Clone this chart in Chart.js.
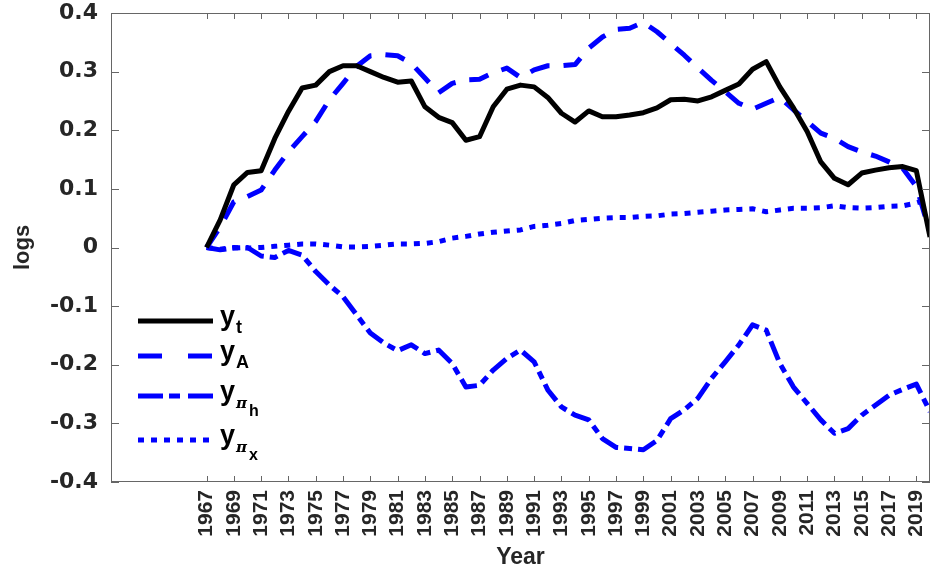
<!DOCTYPE html>
<html>
<head>
<meta charset="utf-8">
<script src="https://cdn.jsdelivr.net/npm/chart.js@4.4.1/dist/chart.umd.min.js"></script>
<style>
  body { margin: 0; background: #fff; }
  #wrap { width: 934px; height: 576px; }
</style>
</head>
<body>
<div id="wrap"><canvas id="myChart" width="934" height="576"></canvas></div>
<script>
// years of the series
const years = [1967, 1968, 1969, 1970, 1971, 1972, 1973, 1974, 1975, 1976,
  1977, 1978, 1979, 1980, 1981, 1982, 1983, 1984, 1985, 1986,
  1987, 1988, 1989, 1990, 1991, 1992, 1993, 1994, 1995, 1996,
  1997, 1998, 1999, 2000, 2001, 2002, 2003, 2004, 2005, 2006,
  2007, 2008, 2009, 2010, 2011, 2012, 2013, 2014, 2015, 2016,
  2017, 2018, 2019, 2020];

const tickYears = [1967, 1969, 1971, 1973, 1975, 1977, 1979, 1981, 1983, 1985,
  1987, 1989, 1991, 1993, 1995, 1997, 1999, 2001, 2003, 2005,
  2007, 2009, 2011, 2013, 2015, 2017, 2019];

const yT = [0, 0.047, 0.107, 0.128, 0.131, 0.186, 0.232, 0.272, 0.277, 0.300,
  0.310, 0.310, 0.300, 0.290, 0.282, 0.284, 0.240, 0.222, 0.213, 0.183,
  0.189, 0.240, 0.270, 0.277, 0.274, 0.256, 0.229, 0.214, 0.233, 0.223,
  0.223, 0.226, 0.230, 0.238, 0.252, 0.253, 0.250, 0.257, 0.268, 0.279,
  0.304, 0.317, 0.274, 0.238, 0.198, 0.146, 0.118, 0.107, 0.127, 0.132,
  0.136, 0.138, 0.131, 0.018];

const yA = [0, 0.035, 0.078, 0.087, 0.098, 0.132, 0.163, 0.189, 0.215, 0.252,
  0.280, 0.309, 0.327, 0.329, 0.327, 0.314, 0.289, 0.264, 0.280, 0.286,
  0.287, 0.298, 0.306, 0.290, 0.303, 0.310, 0.310, 0.312, 0.340, 0.359,
  0.372, 0.374, 0.384, 0.368, 0.348, 0.328, 0.306, 0.285, 0.266, 0.246,
  0.236, 0.246, 0.256, 0.235, 0.215, 0.195, 0.186, 0.172, 0.163, 0.156,
  0.146, 0.135, 0.104, 0.025];

const yPiH = [0, -0.004, -0.001, 0, -0.0145, -0.017, -0.005, -0.013, -0.041, -0.064,
  -0.084, -0.115, -0.146, -0.163, -0.176, -0.166, -0.181, -0.175, -0.198, -0.238,
  -0.235, -0.209, -0.189, -0.175, -0.195, -0.243, -0.272, -0.286, -0.294, -0.326,
  -0.341, -0.343, -0.345, -0.329, -0.292, -0.277, -0.257, -0.223, -0.195, -0.166,
  -0.132, -0.141, -0.198, -0.238, -0.266, -0.294, -0.317, -0.309, -0.286, -0.269,
  -0.252, -0.242, -0.233, -0.280];

const yPiX = [0, -0.003, 0, -0.001, 0, 0.002, 0.004, 0.006, 0.006, 0.004,
  0.001, 0.001, 0.002, 0.004, 0.006, 0.006, 0.007, 0.010, 0.016, 0.019,
  0.023, 0.026, 0.028, 0.030, 0.036, 0.038, 0.041, 0.046, 0.048, 0.050,
  0.051, 0.051, 0.053, 0.054, 0.057, 0.058, 0.060, 0.062, 0.064, 0.065,
  0.066, 0.061, 0.064, 0.067, 0.067, 0.068, 0.071, 0.068, 0.067, 0.068,
  0.070, 0.071, 0.076, 0.083];

function pts(arr) {
  return years.map((yr, i) => ({ x: yr, y: arr[i] }));
}

const BLUE = "#0000ff";
const AXIS = "#666666";
const TXT = "#262626";

// legend entries: main letter, subscript, sub-subscript
const legendItems = [
  { sub: "t", subsub: "" },
  { sub: "A", subsub: "" },
  { sub: "\u03c0", subsub: "h" },
  { sub: "\u03c0", subsub: "x" },
];

// box, inner tick marks and the legend
const framePlugin = {
  id: "frame",
  afterDraw(chart) {
    const ctx = chart.ctx;
    const a = chart.chartArea;
    const xs = chart.scales.x;
    const ys = chart.scales.y;
    ctx.save();
    ctx.strokeStyle = AXIS;
    ctx.lineWidth = 1;
    ctx.strokeRect(a.left + 0.5, a.top + 0.5, a.right - a.left - 1, a.bottom - a.top - 1);
    ctx.beginPath();
    tickYears.forEach((t) => {
      const px = Math.round(xs.getPixelForValue(t)) + 0.5;
      ctx.moveTo(px, a.bottom);
      ctx.lineTo(px, a.bottom - 6);
      ctx.moveTo(px, a.top);
      ctx.lineTo(px, a.top + 6);
    });
    ys.ticks.forEach((t) => {
      const py = Math.round(ys.getPixelForValue(t.value)) + 0.5;
      ctx.moveTo(a.left, py);
      ctx.lineTo(a.left + 8, py);
      ctx.moveTo(a.right, py);
      ctx.lineTo(a.right - 8, py);
    });
    ctx.stroke();

    // legend
    const x0 = a.left + 27;
    const x1 = a.left + 102;
    const rows = [321, 356, 396, 440];
    chart.data.datasets.forEach((ds, i) => {
      const y = rows[i];
      ctx.beginPath();
      ctx.strokeStyle = ds.borderColor;
      ctx.lineWidth = ds.borderWidth;
      ctx.lineCap = "butt";
      ctx.setLineDash(ds.legendDash || []);
      ctx.moveTo(x0, y);
      ctx.lineTo(x1, y);
      ctx.stroke();
      ctx.setLineDash([]);

      const it = legendItems[i];
      ctx.fillStyle = "#000";
      ctx.textBaseline = "alphabetic";
      ctx.font = "bold 27px 'Liberation Sans', Arial, sans-serif";
      ctx.fillText("y", x1 + 7, y + 4);
      const w = ctx.measureText("y").width;
      if (it.subsub) {
        ctx.font = "bold italic 15px 'DejaVu Serif', serif";
        ctx.fillText(it.sub, x1 + 8 + w, y + 12);
        const w2 = ctx.measureText(it.sub).width;
        ctx.font = "bold 16px 'Liberation Sans', Arial, sans-serif";
        ctx.fillText(it.subsub, x1 + 10 + w + w2, y + 20);
      } else {
        ctx.font = "bold 18px 'Liberation Sans', Arial, sans-serif";
        ctx.fillText(it.sub, x1 + 8 + w, y + 12);
      }
    });
    ctx.restore();
  },
};

const chart = new Chart(document.getElementById("myChart"), {
  type: "line",
  data: {
    datasets: [
      {
        label: "y_t",
        data: pts(yT),
        borderColor: "#000000",
        borderWidth: 5,
        legendDash: [],
      },
      {
        label: "y_A",
        data: pts(yA),
        borderColor: BLUE,
        borderWidth: 5,
        borderDash: [20, 14],
        legendDash: [24, 26],
      },
      {
        label: "y_pi_h",
        data: pts(yPiH),
        borderColor: BLUE,
        borderWidth: 5,
        borderDash: [20, 6, 8, 6],
        legendDash: [25, 6, 11, 8],
      },
      {
        label: "y_pi_x",
        data: pts(yPiX),
        borderColor: BLUE,
        borderWidth: 5,
        borderDash: [6, 7],
        legendDash: [6, 7],
      },
    ],
  },
  options: {
    responsive: false,
    animation: false,
    layout: { padding: { top: 13, right: 4, left: 0, bottom: 0 } },
    elements: {
      point: { radius: 0 },
      line: { tension: 0, borderCapStyle: "butt", borderJoinStyle: "round" },
    },
    plugins: {
      legend: { display: false },
      tooltip: { enabled: false },
    },
    scales: {
      x: {
        type: "linear",
        min: 1960,
        max: 2020,
        grid: { display: false, drawTicks: false },
        border: { display: false },
        afterBuildTicks: (scale) => {
          scale.ticks = tickYears.map((v) => ({ value: v }));
        },
        afterFit: (scale) => {
          scale.height = 94;
          scale.paddingLeft = 0;
          scale.paddingRight = 0;
        },
        ticks: {
          autoSkip: false,
          maxRotation: 90,
          minRotation: 90,
          padding: 8,
          color: TXT,
          font: { family: "'Liberation Sans', Arial, sans-serif", size: 21, weight: "bold" },
          callback: (v) => String(v),
        },
        title: {
          display: true,
          text: "Year",
          color: TXT,
          padding: { top: 0, bottom: 5 },
          font: { family: "'Liberation Sans', Arial, sans-serif", size: 23, weight: "bold" },
        },
      },
      y: {
        min: -0.4,
        max: 0.4,
        grid: { display: false, drawTicks: false },
        border: { display: false },
        afterFit: (scale) => {
          scale.width = 111;
          scale.paddingTop = 0;
          scale.paddingBottom = 0;
        },
        ticks: {
          stepSize: 0.1,
          padding: 13,
          color: TXT,
          font: { family: "'DejaVu Sans', sans-serif", size: 22, weight: "bold" },
          callback: (v) => (Math.abs(v) < 1e-9 ? "0" : v.toFixed(1)),
        },
        title: {
          display: true,
          text: "logs",
          color: TXT,
          padding: { top: 10, bottom: 0 },
          font: { family: "'Liberation Sans', Arial, sans-serif", size: 22, weight: "bold" },
        },
      },
    },
  },
  plugins: [framePlugin],
});
</script>
</body>
</html>
